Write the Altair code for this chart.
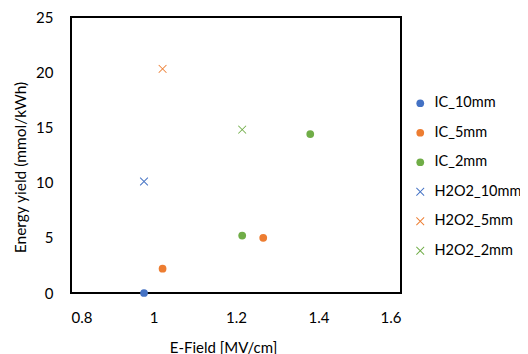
import altair as alt
import pandas as pd

series = ["IC_10mm", "IC_5mm", "IC_5mm", "IC_2mm", "IC_2mm",
          "H2O2_10mm", "H2O2_5mm", "H2O2_2mm"]
efield = [0.977, 1.022, 1.266, 1.215, 1.380, 0.977, 1.022, 1.215]
yield_vals = [0.0, 2.2, 5.0, 5.2, 14.4, 10.1, 20.3, 14.8]

order = ["IC_10mm", "IC_5mm", "IC_2mm", "H2O2_10mm", "H2O2_5mm", "H2O2_2mm"]
colors = ["#4472C4", "#ED7D31", "#70AD47", "#4472C4", "#ED7D31", "#70AD47"]

XPATH = ("M-0.915,-1.085L1.085,0.915L0.915,1.085L-1.085,-0.915Z"
         "M-1.085,0.915L0.915,-1.085L1.085,-0.915L-0.915,1.085Z")
shapes = ["circle", "circle", "circle", XPATH, XPATH, XPATH]
sizes = [60, 60, 60, 55, 55, 55]

df = pd.DataFrame({"series": series, "efield": efield, "yield": yield_vals})

FONT = "Lato"

chart = alt.Chart(df).mark_point(filled=True, opacity=1).encode(
    x=alt.X("efield:Q",
            scale=alt.Scale(domain=[0.8, 1.6], nice=False, zero=False),
            axis=alt.Axis(values=[0.8, 1.0, 1.2, 1.4, 1.6], format="~g",
                          title="E-Field [MV/cm]", grid=False, domain=False,
                          ticks=False, tickSize=0, labelPadding=17,
                          labelFontSize=15, labelFont=FONT, labelColor="#000",
                          titleFont=FONT, titleFontSize=15, titleFontWeight="normal",
                          titleColor="#000", titleX=152, titleY=54,
                          titleBaseline="middle", titleAlign="center")),
    y=alt.Y("yield:Q",
            scale=alt.Scale(domain=[0, 25], nice=False),
            axis=alt.Axis(values=[0, 5, 10, 15, 20, 25],
                          title="Energy yield (mmol/kWh)", grid=False, domain=False,
                          ticks=False, tickSize=0, labelPadding=18,
                          labelFontSize=15, labelFont=FONT, labelColor="#000",
                          titleFont=FONT, titleFontSize=15.5, titleFontWeight="normal",
                          titleColor="#000", titleX=-51, titleY=150,
                          titleAngle=270, titleBaseline="middle", titleAlign="center")),
    color=alt.Color("series:N", sort=order,
                    scale=alt.Scale(domain=order, range=colors),
                    legend=alt.Legend(title=None, orient="none", legendX=342, legendY=79,
                                      labelFont=FONT, labelFontSize=14.5, labelColor="#000",
                                      rowPadding=14.5, labelOffset=7, symbolSize=40,
                                      symbolStrokeWidth=0, padding=0)),
    shape=alt.Shape("series:N", sort=order,
                    scale=alt.Scale(domain=order, range=shapes)),
    size=alt.Size("series:N", scale=alt.Scale(domain=order, range=sizes), legend=None),
).properties(
    width=330, height=276,
    background="#ffffff",
    autosize=alt.AutoSizeParams(type="none"),
    padding={"left": 63, "top": 9, "right": 119, "bottom": 61},
).configure_view(
    stroke="#000", strokeWidth=2
)

chart.save("out.html", embed_options={"renderer": "svg", "actions": False})
